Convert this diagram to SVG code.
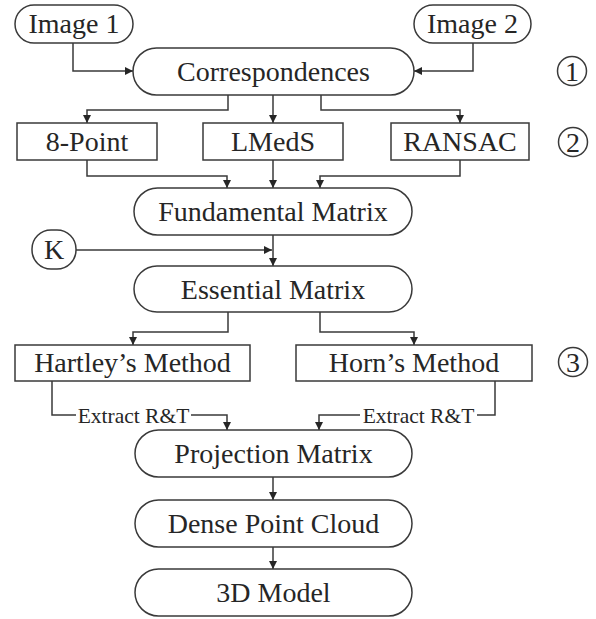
<svg xmlns="http://www.w3.org/2000/svg" width="596" height="619" viewBox="0 0 596 619">
  <style>
    .box { fill: #ffffff; stroke: #3a3a3a; stroke-width: 1.5; }
    .lbl { font-family: "Liberation Serif", "Times New Roman", serif; font-size: 28px; fill: #262626; text-anchor: middle; }
    .small { font-family: "Liberation Serif", "Times New Roman", serif; font-size: 21.5px; fill: #262626; text-anchor: middle; }
    .wire { fill: none; stroke: #3a3a3a; stroke-width: 1.5; }
    .arr { marker-end: url(#head); }
  </style>
  <defs>
    <marker id="head" markerUnits="userSpaceOnUse" markerWidth="9" markerHeight="8" refX="8" refY="4" orient="auto">
      <path d="M0,0 L8,4 L0,8 Z" fill="#262626"/>
    </marker>
  </defs>
  <rect width="596" height="619" fill="#ffffff"/>

  <g id="connectors">
    <path class="wire arr" d="M73 43 V71 H133"/>
    <path class="wire arr" d="M473 43 V71 H414"/>
    <path class="wire arr" d="M228 95 V110 H87 V123"/>
    <path class="wire arr" d="M273 95 V123"/>
    <path class="wire arr" d="M321 95 V110 H460 V123"/>
    <path class="wire arr" d="M87 160 V176 H227 V188"/>
    <path class="wire arr" d="M273 160 V188"/>
    <path class="wire arr" d="M460 160 V176 H320 V188"/>
    <path class="wire arr" d="M273 235 V266"/>
    <path class="wire arr" d="M76 250 H272"/>
    <path class="wire arr" d="M228 312 V332 H133 V345"/>
    <path class="wire arr" d="M320 312 V332 H414 V345"/>
    <path class="wire" d="M52 381 V415 H76"/>
    <path class="wire arr" d="M191 415 H227 V430"/>
    <path class="wire" d="M495 381 V415 H477"/>
    <path class="wire arr" d="M360 415 H319 V430"/>
    <path class="wire arr" d="M273 477 V500"/>
    <path class="wire arr" d="M273 547 V569"/>
    <text class="small" x="133.5" y="423">Extract R&amp;T</text>
    <text class="small" x="418.5" y="423">Extract R&amp;T</text>
  </g>

  <g id="image1">
    <rect class="box" x="15" y="5" width="118" height="38" rx="19"/>
    <text class="lbl" x="74" y="33">Image 1</text>
  </g>
  <g id="image2">
    <rect class="box" x="414" y="5" width="117" height="38" rx="19"/>
    <text class="lbl" x="472.5" y="33">Image 2</text>
  </g>
  <g id="correspondences">
    <rect class="box" x="133" y="48" width="281" height="47" rx="23.5"/>
    <text class="lbl" x="273.5" y="81">Correspondences</text>
  </g>
  <g id="step1">
    <circle class="box" cx="572" cy="71" r="14.5"/>
    <text class="lbl" x="572" y="80.5">1</text>
  </g>

  <g id="eight-point">
    <rect class="box" x="17" y="123" width="140" height="37"/>
    <text class="lbl" x="87" y="151">8-Point</text>
  </g>
  <g id="lmeds">
    <rect class="box" x="203" y="123" width="140" height="37"/>
    <text class="lbl" x="273" y="151">LMedS</text>
  </g>
  <g id="ransac">
    <rect class="box" x="391" y="123" width="138" height="37"/>
    <text class="lbl" x="460" y="151">RANSAC</text>
  </g>
  <g id="step2">
    <circle class="box" cx="573" cy="142" r="14.5"/>
    <text class="lbl" x="573" y="151.5">2</text>
  </g>

  <g id="fundamental">
    <rect class="box" x="134" y="188" width="278" height="47" rx="23.5"/>
    <text class="lbl" x="273" y="221">Fundamental Matrix</text>
  </g>
  <g id="k">
    <rect class="box" x="32" y="230" width="44" height="39" rx="19"/>
    <text class="lbl" x="54" y="259">K</text>
  </g>
  <g id="essential">
    <rect class="box" x="134" y="266" width="278" height="46" rx="23"/>
    <text class="lbl" x="273" y="298.5">Essential Matrix</text>
  </g>

  <g id="hartley">
    <rect class="box" x="15" y="345" width="235" height="36"/>
    <text class="lbl" x="132.5" y="372">Hartley’s Method</text>
  </g>
  <g id="horn">
    <rect class="box" x="296" y="345" width="236" height="36"/>
    <text class="lbl" x="414" y="372">Horn’s Method</text>
  </g>
  <g id="step3">
    <circle class="box" cx="573" cy="362" r="14.5"/>
    <text class="lbl" x="573" y="371.5">3</text>
  </g>

  <g id="projection">
    <rect class="box" x="135" y="430" width="277" height="47" rx="23.5"/>
    <text class="lbl" x="273.5" y="462.5">Projection Matrix</text>
  </g>
  <g id="dense">
    <rect class="box" x="135" y="500" width="277" height="47" rx="23.5"/>
    <text class="lbl" x="273.5" y="532.5">Dense Point Cloud</text>
  </g>
  <g id="model">
    <rect class="box" x="135" y="569" width="277" height="47" rx="23.5"/>
    <text class="lbl" x="273.5" y="601.5">3D Model</text>
  </g>
</svg>
